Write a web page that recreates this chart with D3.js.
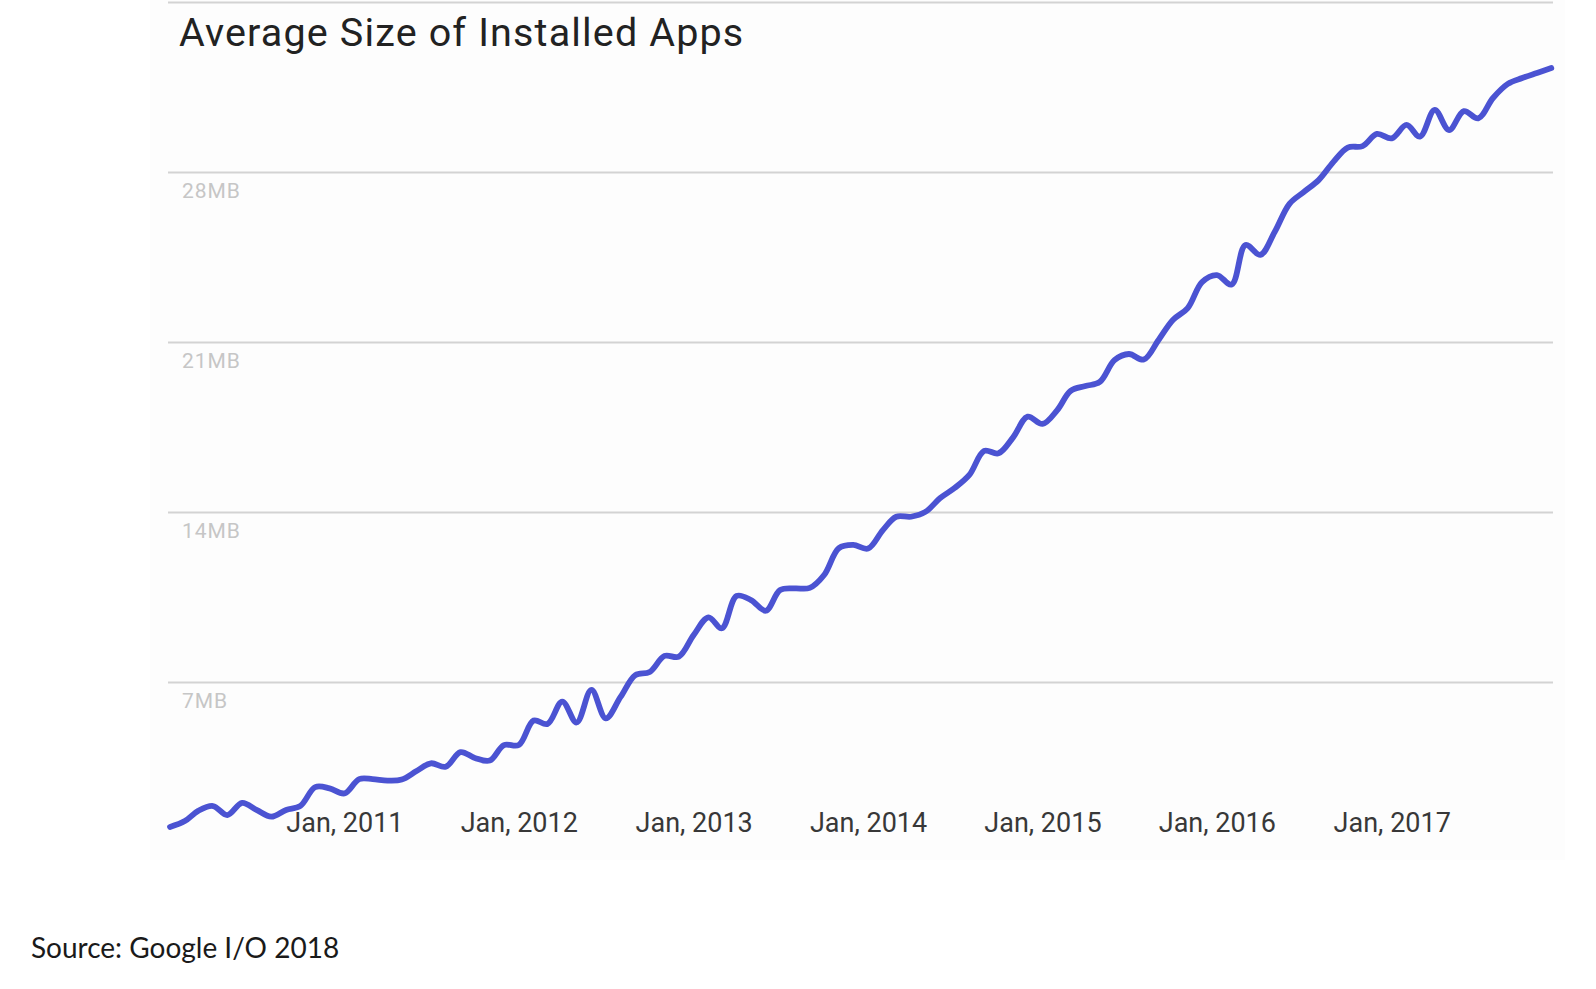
<!DOCTYPE html>
<html>
<head>
<meta charset="utf-8">
<script src="https://cdn.jsdelivr.net/npm/d3@7"></script>
<style>
  html, body { margin: 0; padding: 0; background: #ffffff; }
  svg { display: block; }
</style>
</head>
<body>
<svg id="chart" width="1596" height="989"></svg>
<script>
// ---- data ----
const title = "Average Size of Installed Apps";
const source = "Source: Google I/O 2018";
const startYear = 2010;
// monthly average size (MB), Jan 2010 .. Dec 2017
const sizesMB = [
  1.02, 1.26, 1.68, 1.88, 1.51, 2.01, 1.72, 1.44, 1.72, 1.89, 2.66, 2.61,
  2.40, 2.99, 2.99, 2.93, 2.97, 3.32, 3.64, 3.50, 4.10, 3.86, 3.75, 4.39,
  4.39, 5.40, 5.26, 6.18, 5.32, 6.66, 5.49, 6.37, 7.27, 7.40, 8.06, 8.03,
  8.92, 9.65, 9.20, 10.53, 10.36, 9.92, 10.77, 10.84, 10.86, 11.39, 12.50, 12.63,
  12.48, 13.24, 13.79, 13.79, 13.99, 14.56, 14.97, 15.51, 16.50, 16.40, 17.07, 17.91,
  17.61, 18.18, 18.97, 19.17, 19.34, 20.24, 20.49, 20.26, 21.07, 21.89, 22.38, 23.45,
  23.74, 23.35, 24.98, 24.57, 25.51, 26.67, 27.16, 27.65, 28.40, 28.99, 29.05, 29.55,
  29.37, 29.92, 29.44, 30.54, 29.71, 30.49, 30.19, 31.03, 31.61, 31.85, 32.06, 32.26
];
const yTicks = [7, 14, 21, 28];
const yTickLabels = ["7MB", "14MB", "21MB", "28MB"];
const gridValues = [7, 14, 21, 28, 35];
const xTickYears = [2011, 2012, 2013, 2014, 2015, 2016, 2017];
const xTickLabels = ["Jan, 2011", "Jan, 2012", "Jan, 2013", "Jan, 2014", "Jan, 2015", "Jan, 2016", "Jan, 2017"];

const data = sizesMB.map((v, i) => ({ date: new Date(startYear, i, 1), value: v }));

// ---- layout ----
const svg = d3.select("#chart");
const plotBottom = 851.7;

svg.append("rect")
  .attr("x", 150).attr("y", 0)
  .attr("width", 1415).attr("height", 860)
  .attr("fill", "#fdfdfd");

const x = d3.scaleTime()
  .domain([new Date(2010, 0, 1), new Date(2017, 11, 1)])
  .range([170, 1551.3]);

const y = d3.scaleLinear()
  .domain([0, 35])
  .range([plotBottom, plotBottom - 35 * 24.29]);

// gridlines
svg.append("g")
  .selectAll("line")
  .data(gridValues)
  .join("line")
  .attr("x1", 168).attr("x2", 1553)
  .attr("y1", d => Math.round(y(d)) + 0.5)
  .attr("y2", d => Math.round(y(d)) + 0.5)
  .attr("stroke", "#d3d3d3")
  .attr("stroke-width", 2);

// y tick labels
svg.append("g")
  .selectAll("text")
  .data(yTicks)
  .join("text")
  .attr("x", 182)
  .attr("y", d => y(d) + 26)
  .attr("font-family", "Roboto, sans-serif")
  .attr("font-size", 21)
  .attr("letter-spacing", 0.9)
  .attr("fill", "#c6c6c6")
  .text((d, i) => yTickLabels[i]);

// x axis labels
const xAxis = d3.axisBottom(x)
  .tickValues(xTickYears.map(yr => new Date(yr, 0, 1)))
  .tickFormat((d, i) => xTickLabels[i])
  .tickSize(0)
  .tickPadding(0);

const gx = svg.append("g")
  .attr("transform", "translate(0,813)")
  .call(xAxis);
gx.select(".domain").remove();
gx.selectAll("text")
  .attr("font-family", "Roboto, sans-serif")
  .attr("font-size", 27)
  .attr("fill", "#383838");

// line
const line = d3.line()
  .x(d => x(d.date))
  .y(d => y(d.value))
  .curve(d3.curveCatmullRom.alpha(0.5));

svg.append("path")
  .datum(data)
  .attr("d", line)
  .attr("fill", "none")
  .attr("stroke", "#4b53d2")
  .attr("stroke-width", 5.8)
  .attr("stroke-linejoin", "round")
  .attr("stroke-linecap", "round");

// title
svg.append("text")
  .attr("x", 179)
  .attr("y", 46)
  .attr("font-family", "Roboto, sans-serif")
  .attr("font-size", 39.5)
  .attr("letter-spacing", 1.15)
  .attr("fill", "#222222")
  .text(title);

// source
svg.append("text")
  .attr("x", 31)
  .attr("y", 958)
  .attr("font-family", "Lato, sans-serif")
  .attr("font-size", 28)
  .attr("fill", "#1a1a1a")
  .text(source);
</script>
</body>
</html>
